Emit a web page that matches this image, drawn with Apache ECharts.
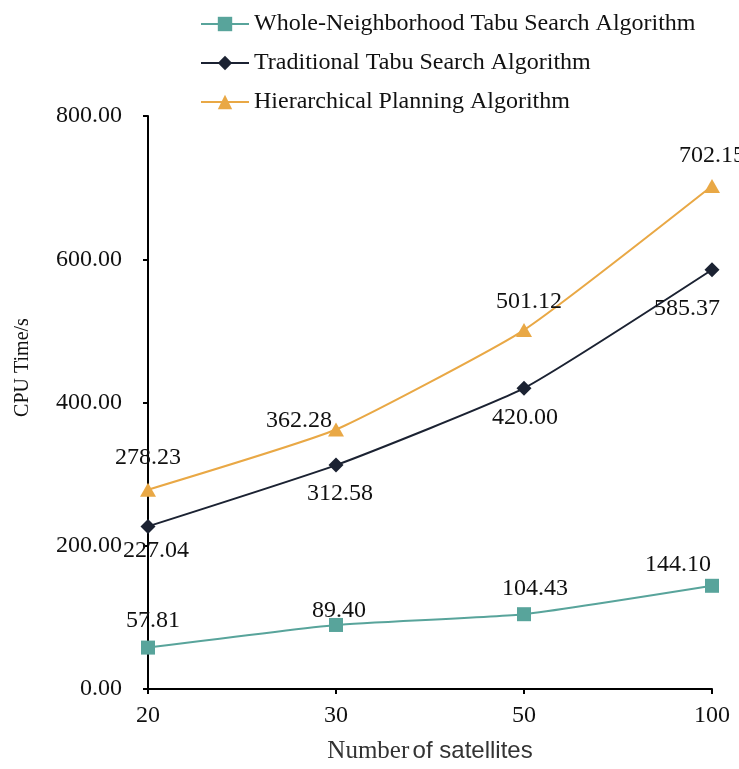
<!DOCTYPE html>
<html>
<head>
<meta charset="utf-8">
<script src="https://cdn.jsdelivr.net/npm/echarts@6/dist/echarts.min.js"></script>
<style>
  html, body { margin: 0; padding: 0; background: #fff; overflow: hidden; }
  #chart { width: 739px; height: 769px; }
</style>
</head>
<body>
<div id="chart"></div>
<script>
// Number of satellites on the x axis
const categories = ['20', '30', '50', '100'];

// CPU time (s) for each algorithm
const wholeNeighborhood = [57.81, 89.40, 104.43, 144.10];
const traditionalTabu = [227.04, 312.58, 420.00, 585.37];
const hierarchical = [278.23, 362.28, 501.12, 702.15];

const seriesNames = [
  'Whole-Neighborhood Tabu Search Algorithm',
  'Traditional Tabu Search Algorithm',
  'Hierarchical Planning Algorithm'
];

// Value-label placement per point (pixel offset from the marker)
const wholeLabelOffsets = [[5, -27], [3, -14], [11, -25], [-34, -21]];
const tradLabelOffsets = [[8, 24], [4, 29], [1, 30], [-25, 39]];
const hierLabelOffsets = [[0, -32], [-37, -9], [5, -28], [0, -30]];

const SERIF = '"Liberation Serif", "Times New Roman", serif';
const TEXT = '#111';

function withLabels(values, offsets) {
  return values.map((v, i) => ({
    value: v,
    label: { offset: offsets[i] }
  }));
}

const chart = echarts.init(document.getElementById('chart'), null, { width: 739, height: 769 });

const labelStyle = {
  show: true,
  position: 'inside',
  fontFamily: SERIF,
  fontSize: 24,
  color: TEXT,
  formatter: p => Number(p.value).toFixed(2)
};

chart.setOption({
  animation: false,
  backgroundColor: '#fff',
  legend: {
    orient: 'vertical',
    left: 195,
    top: 7,
    itemWidth: 48,
    itemHeight: 18,
    itemGap: 15,
    textStyle: { fontFamily: SERIF, fontSize: 24, color: TEXT },
    data: seriesNames
  },
  grid: { left: 148, right: 27, top: 116, height: 576, containLabel: false },
  xAxis: {
    type: 'category',
    data: categories,
    boundaryGap: false,
    name: '{a|Number} {b|of satellites}',
    nameLocation: 'middle',
    nameGap: 50,
    nameTextStyle: {
      rich: {
        a: { fontFamily: SERIF, fontSize: 25, color: '#333' },
        b: { fontFamily: '"Liberation Sans Narrow", "Liberation Sans", sans-serif', fontSize: 24, color: '#333' }
      }
    },
    axisLine: { lineStyle: { color: '#000', width: 2 } },
    axisTick: { show: true, alignWithLabel: true, length: 5, lineStyle: { color: '#000', width: 2 } },
    axisLabel: { fontFamily: SERIF, fontSize: 24, color: TEXT, margin: 15 },
    splitLine: { show: false }
  },
  yAxis: {
    type: 'value',
    min: 0,
    max: 800,
    interval: 200,
    name: 'CPU Time/s',
    nameLocation: 'middle',
    nameRotate: 90,
    nameGap: 115,
    nameTextStyle: { fontFamily: SERIF, fontSize: 20, color: TEXT, padding: [0, 0, 0, 70] },
    axisLine: { show: true, lineStyle: { color: '#000', width: 2 } },
    axisTick: { show: true, length: 5, lineStyle: { color: '#000', width: 2 } },
    axisLabel: {
      fontFamily: SERIF, fontSize: 24, color: TEXT, margin: 26,
      formatter: v => v.toFixed(2)
    },
    splitLine: { show: false }
  },
  series: [
    {
      name: seriesNames[0],
      type: 'line',
      data: withLabels(wholeNeighborhood, wholeLabelOffsets),
      smooth: 0.15,
      symbol: 'rect',
      symbolSize: 14,
      color: '#58a49b',
      lineStyle: { width: 2, color: '#58a49b' },
      itemStyle: { color: '#58a49b' },
      label: labelStyle,
      z: 3
    },
    {
      name: seriesNames[1],
      type: 'line',
      data: withLabels(traditionalTabu, tradLabelOffsets),
      smooth: 0.15,
      symbol: 'diamond',
      symbolSize: 15,
      color: '#1b2232',
      lineStyle: { width: 2, color: '#1b2232' },
      itemStyle: { color: '#1b2232' },
      label: labelStyle,
      z: 3
    },
    {
      name: seriesNames[2],
      type: 'line',
      data: withLabels(hierarchical, hierLabelOffsets),
      smooth: 0.15,
      symbol: 'triangle',
      symbolSize: [16, 14],
      color: '#e9a845',
      lineStyle: { width: 2, color: '#e9a845' },
      itemStyle: { color: '#e9a845' },
      label: labelStyle,
      z: 3
    }
  ]
});
</script>
</body>
</html>
